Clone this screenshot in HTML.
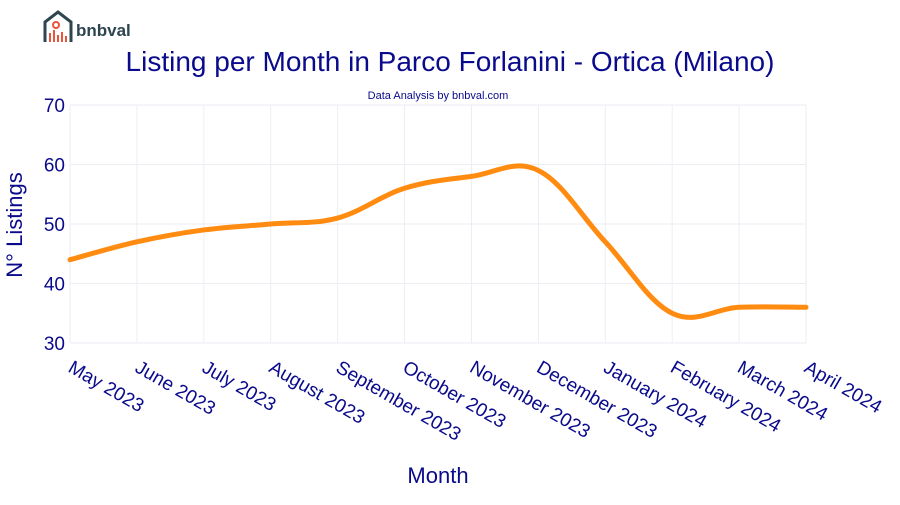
<!DOCTYPE html>
<html><head><meta charset="utf-8"><style>
body{margin:0;background:#fff;font-family:"Liberation Sans",Arial,sans-serif;}
svg text{font-family:"Liberation Sans",Arial,sans-serif;}
</style></head><body>
<svg width="900" height="500">
<g>
<path d="M45 42 V22 L58 12 L71 22 V42" fill="none" stroke="#2d4550" stroke-width="3"/>
<circle cx="56" cy="25" r="3" fill="none" stroke="#e8553d" stroke-width="2"/>
<rect x="49" y="33" width="2" height="9" fill="#e8553d"/><rect x="53" y="30" width="2" height="12" fill="#e8553d"/>
<rect x="57" y="35" width="2" height="7" fill="#e8553d"/><rect x="61" y="32" width="2" height="10" fill="#e8553d"/><rect x="65" y="36" width="2" height="6" fill="#e8553d"/>
<text x="76" y="36" font-size="17" font-weight="bold" fill="#2d4550">bnbval</text>
</g>
<text x="450" y="71" text-anchor="middle" font-size="28" fill="#0a0a8c">Listing per Month in Parco Forlanini - Ortica (Milano)</text>
<text x="438" y="99" text-anchor="middle" font-size="11" fill="#0a0a8c">Data Analysis by bnbval.com</text>
<g id="grid"></g><g id="yt"></g><g id="xt"></g>
<path id="line" fill="none" stroke="#ff8c10" stroke-width="5" stroke-linejoin="round" stroke-linecap="round"/>
<text transform="translate(22,225) rotate(-90)" text-anchor="middle" font-size="22" fill="#0a0a8c">N° Listings</text>
<text x="438" y="483" text-anchor="middle" font-size="22" fill="#0a0a8c">Month</text>
</svg>
<script>
const categories=["May 2023","June 2023","July 2023","August 2023","September 2023","October 2023","November 2023","December 2023","January 2024","February 2024","March 2024","April 2024"];
const values=[44,47,49,50,51,56,58,59,47,35,36,36];
const yTicks=[30,40,50,60,70];
const NS="http://www.w3.org/2000/svg";
const x0=70,x1=806,y0=343,y1=105;
const X=i=>x0+i*(x1-x0)/(categories.length-1);
const Y=v=>y0-(v-30)*(y0-y1)/40;
function mk(t,a,p){const e=document.createElementNS(NS,t);for(const k in a)e.setAttribute(k,a[k]);p.appendChild(e);return e;}
const grid=document.getElementById('grid'),yt=document.getElementById('yt'),xt=document.getElementById('xt');
yTicks.forEach(v=>{
 const l=mk('line',{x1:x0,x2:x1,y1:Y(v),y2:Y(v),stroke:'#eceef4'},grid);
 
 
 const t=mk('text',{x:x0-5,y:Y(v)+7,'text-anchor':'end','font-size':19,fill:'#0a0a8c'},yt);t.textContent=v;
 
 
});
categories.forEach((c,i)=>{
 const l=mk('line',{x1:X(i),x2:X(i),y1:y1,y2:y0,stroke:'#eceef4'},grid);
 
 
 const t=mk('text',{transform:`translate(${X(i)-3},${y0+28}) rotate(30)`,'font-size':19,fill:'#0a0a8c'},xt);t.textContent=c;
 
 
});
const pts=values.map((v,i)=>[X(i),Y(v)]);
let d=`M${pts[0][0]},${pts[0][1]}`;const s=0.18;
for(let i=0;i<pts.length-1;i++){
 const p0=pts[Math.max(0,i-1)],p1=pts[i],p2=pts[i+1],p3=pts[Math.min(pts.length-1,i+2)];
 const c1=[p1[0]+(p2[0]-p0[0])*s,p1[1]+(p2[1]-p0[1])*s],c2=[p2[0]-(p3[0]-p1[0])*s,p2[1]-(p3[1]-p1[1])*s];
 d+=` C${c1[0]},${c1[1]} ${c2[0]},${c2[1]} ${p2[0]},${p2[1]}`;
}
document.getElementById('line').setAttribute('d',d);
</script>
</body></html>
